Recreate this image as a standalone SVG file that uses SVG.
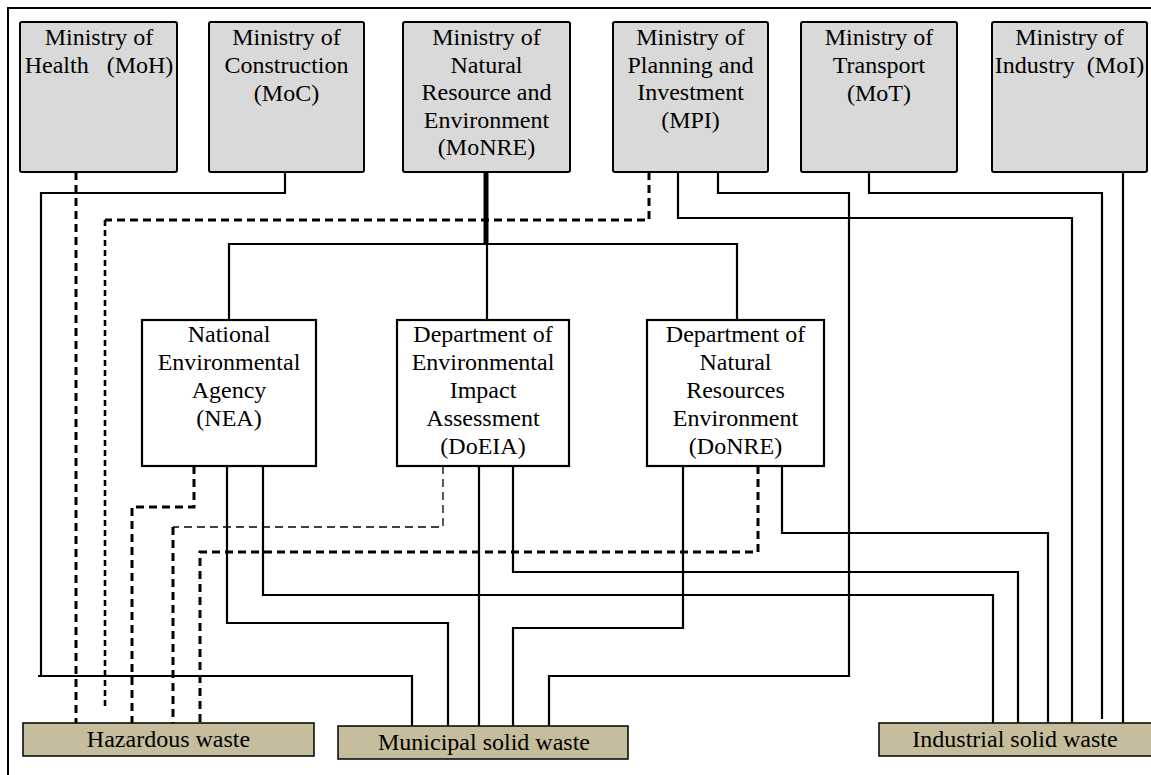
<svg xmlns="http://www.w3.org/2000/svg" width="1151" height="775" viewBox="0 0 1151 775">
<style>
.min{fill:#d9d9d9;stroke:#000;stroke-width:2}
.dep{fill:#fff;stroke:#000;stroke-width:2.2}
.waste{fill:#c5bd9b;stroke:#000;stroke-width:1.5}
text{font-family:"Liberation Serif","Times New Roman",serif;font-size:24px;fill:#000;text-anchor:middle;white-space:pre}
.s{fill:none;stroke:#000;stroke-width:2.2}
.thick{fill:none;stroke:#000;stroke-width:5}
.d{fill:none;stroke:#000;stroke-width:3;stroke-dasharray:8 5}
.d2{fill:none;stroke:#000;stroke-width:2.6;stroke-dasharray:6 4}
.dt{fill:none;stroke:#000;stroke-width:1.3;stroke-dasharray:8 5}
</style>
<rect width="1151" height="775" fill="#fff"/>
<path d="M8,775 V8 H1151" fill="none" stroke="#000" stroke-width="2"/>

<g id="connectors">
  <!-- MoH -->
  <path class="d" d="M76,172 V723"/>
  <!-- MoC -->
  <path class="s" d="M285,172 V193 H41 V676"/>
  <path class="s" d="M38,676 H412 V726"/>
  <!-- MoNRE -->
  <path class="thick" d="M486,172 V244"/>
  <path class="s" d="M229,320 V244 H737 V320"/>
  <path class="s" d="M487,244 V320"/>
  <!-- MPI -->
  <path class="d" d="M649,172 V220 H105"/>
  <path class="d2" d="M105,220 V710"/>
  <path class="s" d="M678,172 V218 H1072 V723"/>
  <path class="s" d="M718,172 V193 H849 V676 H549 V726"/>
  <!-- MoT -->
  <path class="s" d="M869,172 V193 H1102 V719"/>
  <!-- MoI -->
  <path class="s" d="M1123,172 V723"/>
  <!-- NEA -->
  <path class="d" d="M194,466 V507 H132 V723"/>
  <path class="s" d="M227,466 V623 H448 V726"/>
  <path class="s" d="M263,466 V595 H993 V723"/>
  <!-- DoEIA -->
  <path class="dt" d="M443,466 V527 H173"/>
  <path class="d" d="M173,527 V723"/>
  <path class="s" d="M479,466 V726"/>
  <path class="s" d="M513,466 V572 H1018 V723"/>
  <!-- DoNRE -->
  <path class="s" d="M683,466 V628 H513 V726"/>
  <path class="d" d="M758,466 V552 H200 V723"/>
  <path class="s" d="M782,466 V533 H1048 V723"/>
</g>

<g id="moh">
  <rect class="min" x="20" y="22" width="157" height="150" rx="2"/>
  <text x="99" y="45">Ministry of</text>
  <text x="99" y="73">Health   (MoH)</text>
</g>
<g id="moc">
  <rect class="min" x="209" y="22" width="155" height="150" rx="2"/>
  <text x="286.5" y="45">Ministry of</text>
  <text x="286.5" y="73">Construction</text>
  <text x="286.5" y="101">(MoC)</text>
</g>
<g id="monre">
  <rect class="min" x="403" y="22" width="167" height="150" rx="2"/>
  <text x="486.5" y="45">Ministry of</text>
  <text x="486.5" y="72.5">Natural</text>
  <text x="486.5" y="100">Resource and</text>
  <text x="486.5" y="127.5">Environment</text>
  <text x="486.5" y="155">(MoNRE)</text>
</g>
<g id="mpi">
  <rect class="min" x="613" y="22" width="155" height="150" rx="2"/>
  <text x="690.5" y="45">Ministry of</text>
  <text x="690.5" y="72.5">Planning and</text>
  <text x="690.5" y="100">Investment</text>
  <text x="690.5" y="127.5">(MPI)</text>
</g>
<g id="mot">
  <rect class="min" x="801" y="22" width="156" height="150" rx="2"/>
  <text x="879" y="45">Ministry of</text>
  <text x="879" y="73">Transport</text>
  <text x="879" y="101">(MoT)</text>
</g>
<g id="moi">
  <rect class="min" x="992" y="22" width="155" height="150" rx="2"/>
  <text x="1069.5" y="45">Ministry of</text>
  <text x="1069.5" y="73">Industry  (MoI)</text>
</g>

<g id="nea">
  <rect class="dep" x="142" y="320" width="174" height="146"/>
  <text x="229" y="342">National</text>
  <text x="229" y="370">Environmental</text>
  <text x="229" y="398">Agency</text>
  <text x="229" y="426">(NEA)</text>
</g>
<g id="doeia">
  <rect class="dep" x="397" y="320" width="172" height="146"/>
  <text x="483" y="342">Department of</text>
  <text x="483" y="370">Environmental</text>
  <text x="483" y="398">Impact</text>
  <text x="483" y="426">Assessment</text>
  <text x="483" y="454">(DoEIA)</text>
</g>
<g id="donre">
  <rect class="dep" x="647" y="320" width="177" height="146"/>
  <text x="735.5" y="342">Department of</text>
  <text x="735.5" y="370">Natural</text>
  <text x="735.5" y="398">Resources</text>
  <text x="735.5" y="426">Environment</text>
  <text x="735.5" y="454">(DoNRE)</text>
</g>

<g id="hazardous">
  <rect class="waste" x="23" y="723" width="291" height="33"/>
  <text x="168.5" y="747">Hazardous waste</text>
</g>
<g id="municipal">
  <rect class="waste" x="338" y="726" width="290" height="33"/>
  <text x="484" y="750">Municipal solid waste</text>
</g>
<g id="industrial">
  <rect class="waste" x="879" y="723" width="280" height="33"/>
  <text x="1015" y="747">Industrial solid waste</text>
</g>
</svg>
